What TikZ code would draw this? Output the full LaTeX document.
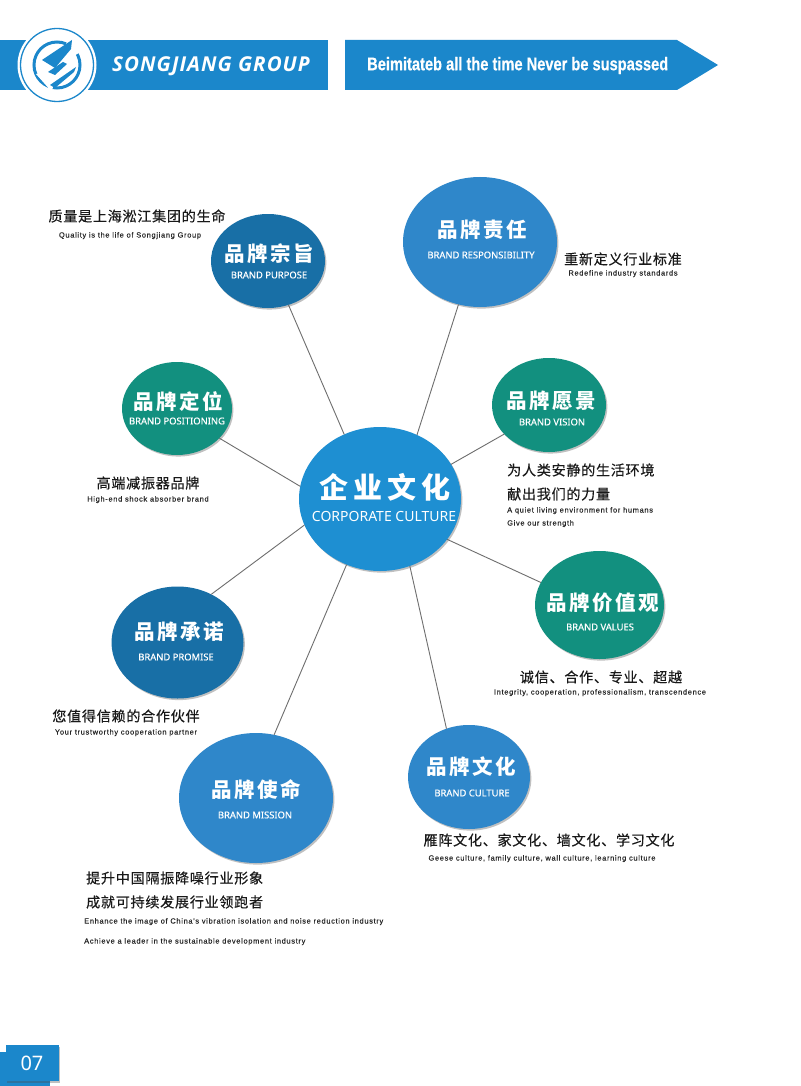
\documentclass[tikz,border=0pt]{standalone}
\usepackage{fontspec}
\usetikzlibrary{shapes.geometric,shadows}
\setmainfont{Liberation Sans}
\newfontfamily\cjkf[LetterSpace=5,FakeBold=0.35]{Noto Sans CJK SC}
\newfontfamily\titlef[LetterSpace=12]{Noto Sans CJK SC}
\newfontfamily\bigf[LetterSpace=18]{Noto Sans CJK SC}
\newfontfamily\subf[FakeBold=0.5]{Noto Sans}
\newfontfamily\coref{Noto Sans}
\newfontfamily\smallf[LetterSpace=9,FakeBold=0.2]{Liberation Sans}
\newfontfamily\narrowf[FakeStretch=0.8,FakeBold=0.6]{Liberation Sans}
\newfontfamily\brandf[LetterSpace=5]{Open Sans}
\definecolor{barblue}{HTML}{1B87CB}
\definecolor{midblue}{HTML}{2F87CA}
\definecolor{deepblue}{HTML}{186FA6}
\definecolor{teal}{HTML}{12907F}
\definecolor{coreblue}{HTML}{1E8FD2}
\definecolor{linegrey}{HTML}{6E6E6E}
\tikzset{
  x=1pt,y=-1pt,
  softshadow/.style={drop shadow={shadow xshift=1.4pt,shadow yshift=-1.6pt,opacity=.35,fill=black!70}},
  bubble/.style={ellipse,inner sep=0pt,outer sep=0pt,draw=none,softshadow},
  spoke/.style={draw=linegrey,line width=.9pt},
  ttl/.style={text=white,inner sep=0pt,font=\titlef\bfseries\fontsize{20.5}{21}\selectfont},
  sub/.style={text=white,inner sep=0pt,font=\subf\fontsize{9.4}{10}\selectfont},
  zh/.style={text=black!90,inner sep=0pt,font=\cjkf\fontsize{14.1}{14}\selectfont},
  en/.style={text=black!85,inner sep=0pt,yshift=-.6pt,font=\smallf\fontsize{7.47}{8}\selectfont},
}
\begin{document}
\begin{tikzpicture}
\useasboundingbox (0,0) rectangle (800,1086);
\fill[white] (0,0) rectangle (800,1086);
% header
\fill[barblue] (0,40) rectangle (328,90);
\fill[barblue] (345,40) -- (677,40) -- (718,65) -- (677,90) -- (345,90) -- cycle;
\fill[white] (57,65) circle (39.5);
\draw[barblue,line width=1.3pt] (57,65) circle (36.5);
\draw[barblue,line width=3pt] (57,65) circle (23);
\fill[white] (68,38) -- (84,50) -- (60,64) -- cycle;
\fill[white] (36,74) -- (52,92) -- (56,70) -- cycle;
\fill[barblue] (42,60) -- (72,40) -- (71,49) -- (55,68) -- cycle;
\fill[barblue] (48,72) -- (63,62) -- (67,64) -- (55,75) -- cycle;
\fill[barblue] (50,85) -- (76,67) -- (74,72) -- (55,88) -- cycle;
\node[text=white,inner sep=0pt,anchor=west,font=\brandf\bfseries\itshape\fontsize{20.5}{21}\selectfont] (brand) at (112,66) {SONGJIANG GROUP};
\node[text=white,inner sep=0pt,anchor=west,font=\narrowf\bfseries\fontsize{18.3}{18}\selectfont] (motto) at (367,65.5) {Beimitateb all the time Never be suspassed};
% bubbles
\node[bubble,fill=coreblue,minimum width=162pt,minimum height=144pt] (core) at (380,499) {};
\node[bubble,fill=midblue,minimum width=154pt,minimum height=130pt] (resp) at (480,242) {};
\node[bubble,fill=deepblue,minimum width=114pt,minimum height=94pt] (purp) at (268,261) {};
\node[bubble,fill=teal,minimum width=110pt,minimum height=93pt] (posi) at (177,408.5) {};
\node[bubble,fill=teal,minimum width=114pt,minimum height=94pt] (visi) at (549,405) {};
\node[bubble,fill=teal,minimum width=129pt,minimum height=108pt] (valu) at (599.5,605) {};
\node[bubble,fill=midblue,minimum width=122pt,minimum height=104pt] (cult) at (469,777) {};
\node[bubble,fill=midblue,minimum width=154pt,minimum height=130pt] (miss) at (256,798) {};
\node[bubble,fill=deepblue,minimum width=132pt,minimum height=112pt] (prom) at (177.5,642.5) {};
% spokes
\draw[spoke] (core.119) -- (purp.-65);
\draw[spoke] (core.60.4) -- (resp.-109.5);
\draw[spoke] (core.26) -- (visi.-147);
\draw[spoke] (core.-31.4) -- (valu.159);
\draw[spoke] (core.-66.5) -- (cult.115.6);
\draw[spoke] (core.-117.3) -- (miss.74);
\draw[spoke] (core.-161) -- (prom.55.8);
\draw[spoke] (core.171.5) -- (posi.-35.5);
% bubble texts
\node[text=white,inner sep=0pt,font=\bigf\bfseries\fontsize{29}{29}\selectfont] (t0) at (385,487) {企业文化};
\node[text=white,inner sep=0pt,font=\coref\fontsize{14}{15}\selectfont] (s0) at (384,516) {CORPORATE CULTURE};
\node[ttl] (t1) at (482,230) {品牌责任};
\node[sub] (s1) at (481,255) {BRAND RESPONSIBILITY};
\node[ttl] (t2) at (269,254) {品牌宗旨};
\node[sub] (s2) at (269,275) {BRAND PURPOSE};
\node[ttl] (t3) at (178,402) {品牌定位};
\node[sub] (s3) at (177,421) {BRAND POSITIONING};
\node[ttl] (t4) at (551,401) {品牌愿景};
\node[sub] (s4) at (552,422) {BRAND VISION};
\node[ttl] (t5) at (603,603) {品牌价值观};
\node[sub] (s5) at (600,627) {BRAND VALUES};
\node[ttl] (t6) at (471,767) {品牌文化};
\node[sub] (s6) at (472,793) {BRAND CULTURE};
\node[ttl] (t7) at (256,790) {品牌使命};
\node[sub] (s7) at (255,815) {BRAND MISSION};
\node[ttl] (t8) at (179,632) {品牌承诺};
\node[sub] (s8) at (176,657) {BRAND PROMISE};
% captions
\node[zh] (a1) at (137,216) {质量是上海淞江集团的生命};
\node[en] (b1) at (130,235) {Quality is the life of Songjiang Group};
\node[zh] (a2) at (623,259) {重新定义行业标准};
\node[en] (b2) at (623,273) {Redefine industry standards};
\node[zh,anchor=west] (a3) at (507,470) {为人类安静的生活环境};
\node[zh,anchor=west] (a3b) at (507,494) {献出我们的力量};
\node[en,anchor=west] (b3) at (507,510) {A quiet living environment for humans};
\node[en,anchor=west] (b3b) at (507,523) {Give our strength};
\node[zh] (a4) at (148,483) {高端减振器品牌};
\node[en] (b4) at (148,499) {High-end shock absorber brand};
\node[zh] (a5) at (601,677) {诚信、合作、专业、超越};
\node[en] (b5) at (600,692) {Integrity, cooperation, professionalism, transcendence};
\node[zh] (a6) at (126,716) {您值得信赖的合作伙伴};
\node[en] (b6) at (126,732) {Your trustworthy cooperation partner};
\node[zh] (a7) at (549,840) {雁阵文化、家文化、墙文化、学习文化};
\node[en] (b7) at (542,858) {Geese culture, family culture, wall culture, learning culture};
\node[zh,anchor=west] (a8) at (86,878) {提升中国隔振降噪行业形象};
\node[zh,anchor=west] (a8b) at (86,902) {成就可持续发展行业领跑者};
\node[en,anchor=west] (b8) at (84,921) {Enhance the image of China's vibration isolation and noise reduction industry};
\node[en,anchor=west] (b8b) at (84,941) {Achieve a leader in the sustainable development industry};
% page number
\fill[barblue] (0,1052) rectangle (50,1086);
\node[fill=barblue,minimum width=53pt,minimum height=36pt,inner sep=0pt,softshadow,text=white,font=\coref\fontsize{20}{20}\selectfont] (page) at (32,1063) {07};
\end{tikzpicture}
\end{document}
